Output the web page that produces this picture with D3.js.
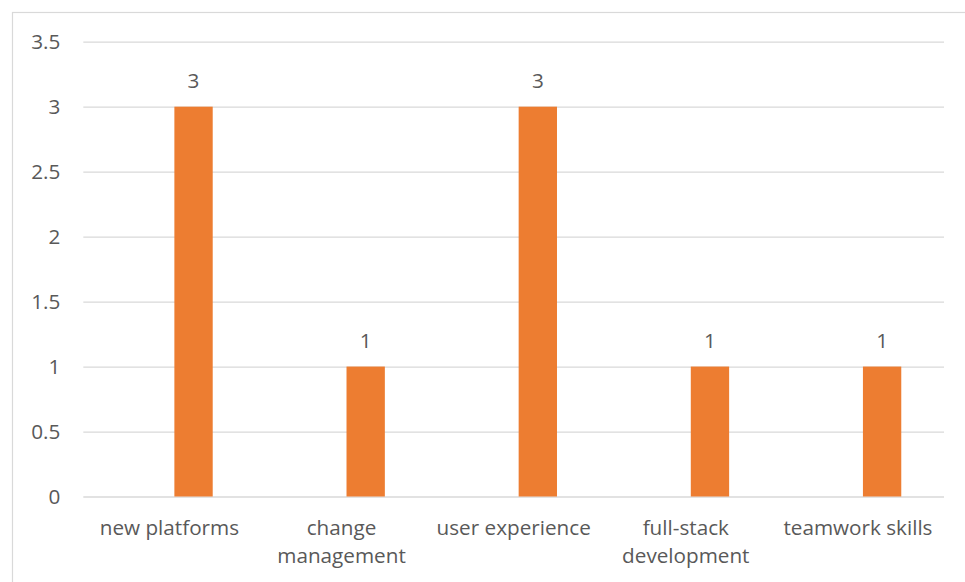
<!DOCTYPE html>
<html>
<head>
<meta charset="utf-8">
<script src="https://cdn.jsdelivr.net/npm/d3@7"></script>
<style>
  html, body { margin: 0; padding: 0; background: #fff; }
  svg { display: block; }
  text { font-family: "Open Sans", "Noto Sans", sans-serif; fill: #595959; }
</style>
</head>
<body>
<svg id="chart" width="965" height="582"></svg>
<script>
const categories = ["new platforms", "change management", "user experience", "full-stack development", "teamwork skills"];
const series = ["blank", "count"];
const blankValues = [null, null, null, null, null];
const countValues = [3, 1, 3, 1, 1];
const yTicks = [0, 0.5, 1, 1.5, 2, 2.5, 3, 3.5];

const W = 965, H = 582;
const FS = 20.7;
const margin = { left: 83.3, right: W - 944, top: 41.7, bottom: H - 496.5 };
const svg = d3.select("#chart");

// chart area border
svg.append("rect")
  .attr("x", 12.5).attr("y", 12.5)
  .attr("width", 1200).attr("height", 1200)
  .attr("fill", "none").attr("stroke", "#d9d9d9").attr("stroke-width", 1.2);

const x0 = d3.scaleBand().domain(categories).range([margin.left, W - margin.right]).padding(0);
const x1 = d3.scaleBand().domain(series).range([0, x0.bandwidth()]).paddingInner(0.207).paddingOuter(0.884);
const y = d3.scaleLinear().domain([0, 3.5]).range([H - margin.bottom, margin.top]);

// gridlines
const yAxis = d3.axisLeft(y).tickValues(yTicks).tickSize(-(W - margin.right - margin.left)).tickPadding(23).tickFormat(d => String(d));
const gy = svg.append("g").attr("transform", `translate(${margin.left},0)`).call(yAxis);
gy.select(".domain").remove();
gy.selectAll(".tick line").attr("stroke", "#d9d9d9").attr("stroke-width", 1.3);
gy.selectAll(".tick text").attr("font-size", FS).attr("fill", "#595959").attr("dy", "0.35em")
  .style("font-family", '"Open Sans", "Noto Sans", sans-serif');

// bars
const rows = categories.map((c, i) => ({ c, vals: [{ s: "blank", v: blankValues[i] }, { s: "count", v: countValues[i] }] }));
const groups = svg.append("g").selectAll("g").data(rows).join("g")
  .attr("transform", d => `translate(${x0(d.c)},0)`);
groups.selectAll("rect").data(d => d.vals.filter(e => e.v != null)).join("rect")
  .attr("x", d => x1(d.s))
  .attr("width", x1.bandwidth())
  .attr("y", d => y(d.v))
  .attr("height", d => y(0) - y(d.v))
  .attr("fill", "#ED7D31");

// data labels
groups.selectAll("text.lbl").data(d => d.vals.filter(e => e.v != null)).join("text")
  .attr("class", "lbl")
  .attr("x", d => x1(d.s) + x1.bandwidth() / 2)
  .attr("y", d => y(d.v) - 18.5)
  .attr("text-anchor", "middle")
  .attr("font-size", FS)
  .text(d => d.v);

// x axis labels with wrapping
const xAxis = d3.axisBottom(x0).tickSize(0).tickPadding(0);
const gx = svg.append("g").attr("transform", `translate(0,${y(0)})`).call(xAxis);
gx.select(".domain").remove();
gx.selectAll(".tick text")
  .attr("font-size", FS).attr("fill", "#595959")
  .style("font-family", '"Open Sans", "Noto Sans", sans-serif')
  .each(function(d) {
    const t = d3.select(this);
    const words = d.split(/\s+/);
    t.text(null);
    const maxW = x0.bandwidth() - 8;
    let lines = [], line = [];
    const probe = t.append("tspan");
    words.forEach(w => {
      const test = line.concat([w]).join(" ");
      probe.text(test);
      if (probe.node().getComputedTextLength() > maxW && line.length) {
        lines.push(line.join(" "));
        line = [w];
      } else {
        line.push(w);
      }
    });
    lines.push(line.join(" "));
    probe.remove();
    t.attr("y", 0).attr("dy", null);
    lines.forEach((ln, i) => {
      t.append("tspan").attr("x", 0).attr("y", 38 + i * 28.7).text(ln);
    });
  });
</script>
</body>
</html>
